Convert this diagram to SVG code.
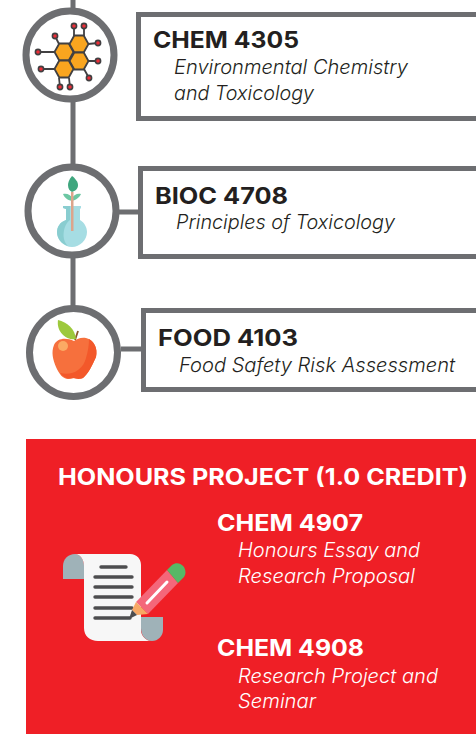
<svg xmlns="http://www.w3.org/2000/svg" xmlns:xlink="http://www.w3.org/1999/xlink" width="476" height="734" viewBox="0 0 476 734">
<style>
.ring{fill:#fff;stroke:#6d6e71;stroke-width:7}
.box{fill:#fff;stroke:#6d6e71;stroke-width:5}
.conn{stroke:#6d6e71;stroke-width:5;fill:none}
text{font-family:"Inter","Liberation Sans",sans-serif}
.code{font-size:23px;font-weight:700;fill:#231f20}
.desc{font-size:19.500px;font-style:italic;font-weight:300;fill:#231f20}
.w{fill:#fff}
.hex{fill:#f9a51f;stroke:#414042;stroke-width:1.800}
.bond{stroke:#414042;stroke-width:1.800;fill:none}
.atom{fill:#ed2e38;stroke:#414042;stroke-width:1.600}
.ln{stroke:#4d4d4f;stroke-width:3.400;stroke-linecap:round}
.curl{fill:#9fb2b8}
</style>
<defs>
<polygon id="hx" class="hex" points="-9.500,0 -4.700,-8.500 4.700,-8.500 9.500,0 4.700,8.500 -4.700,8.500"/>
</defs>
<rect width="476" height="734" fill="#fff"/>
<g id="connectors">
<path class="conn" d="M73 0V9M73 100V166M73 256V308M119 212H140M121 349H143"/>
</g>
<g id="node-chem4305">
<circle class="ring" cx="70" cy="55" r="44"/>
<path class="bond" d="M55 36L59 44M74 26V36M84 26V36M98 43L88 44M98 61H88M89 78L84 69M38 52H55M41 69H55M60 87L59 78M70 87L69 78"/>
<use xlink:href="#hx" href="#hx" x="64" y="52"/>
<use xlink:href="#hx" href="#hx" x="79" y="44"/>
<use xlink:href="#hx" href="#hx" x="79" y="61"/>
<use xlink:href="#hx" href="#hx" x="64" y="69"/>
<circle class="atom" cx="55" cy="36" r="2.600"/><circle class="atom" cx="74" cy="26" r="2.600"/><circle class="atom" cx="84" cy="26" r="2.600"/><circle class="atom" cx="98" cy="43" r="2.600"/><circle class="atom" cx="98" cy="61" r="2.600"/><circle class="atom" cx="89" cy="78" r="2.600"/><circle class="atom" cx="38" cy="52" r="2.600"/><circle class="atom" cx="41" cy="69" r="2.600"/><circle class="atom" cx="60" cy="87" r="2.600"/><circle class="atom" cx="70" cy="87" r="2.600"/>
<rect class="box" x="138.500" y="14.500" width="345" height="104"/>
<text class="code" x="153" y="48" textLength="146" lengthAdjust="spacingAndGlyphs">CHEM 4305</text>
<text class="desc" x="174" y="74" textLength="234" lengthAdjust="spacingAndGlyphs">Environmental Chemistry</text>
<text class="desc" x="174" y="100" textLength="140" lengthAdjust="spacingAndGlyphs">and Toxicology</text>
</g>
<g id="node-bioc4708">
<circle class="ring" cx="72" cy="211" r="44"/>
<path d="M72 176C69 179 68 183 68 185C68 189 70 191 72 192C75 191 78 189 78 185C78 182 75 178 72 176Z" fill="#3fa67e"/>
<path d="M72 201C67 200 64 197 63 194C67 193 71 195 72 198C74 195 77 193 81 194C80 197 76 200 72 201Z" fill="#6cc7a3"/>
<path d="M63 206H81V208L80 209V220C85 223 87 228 87 232C87 240 80 247 72 247C64 247 57 240 57 232C57 227 60 222 66 220V209L63 208Z" fill="#a6dde3"/>
<path d="M68 246C61 244 57 238 57 232C57 227 60 222 66 220V209L63 208V206H70V220C63 225 61 240 68 246Z" fill="#89cdd0"/>
<rect x="71" y="192" width="2.500" height="39" fill="#dca58c"/>
<rect class="box" x="140.500" y="168.500" width="345" height="88"/>
<text class="code" x="155" y="204" textLength="133" lengthAdjust="spacingAndGlyphs">BIOC 4708</text>
<text class="desc" x="176" y="229" textLength="219" lengthAdjust="spacingAndGlyphs">Principles of Toxicology</text>
</g>
<g id="node-food4103">
<circle class="ring" cx="73.500" cy="352.500" r="44"/>
<path d="M74 341C66 337 57 338 54 345C51 352 53 360 56 367C59 374 63 379 68 379C71 379 73 378 74 378C77 379 80 379 83 378C88 374 92 366 96 357C98 348 94 340 86 338C81 337 77 339 74 341Z" fill="#f6703d"/>
<path d="M89 339C94 342 98 348 96 357C92 366 88 374 83 378C78 380 76 378 73 378C70 379 65 379 60 373C72 376 83 370 86 358C88 351 89 345 89 339Z" fill="#f3582a"/>
<circle cx="63" cy="346" r="5" fill="#fbaa64"/>
<path d="M75 340L78 331" stroke="#8a5a2b" stroke-width="1.800" fill="none"/>
<path d="M58 320C67 322 75 329 76 339C68 341 56 333 58 320Z" fill="#9dc93c"/>
<rect class="box" x="143.500" y="310.500" width="345" height="79"/>
<text class="code" x="158" y="346" textLength="140" lengthAdjust="spacingAndGlyphs">FOOD 4103</text>
<text class="desc" x="179" y="372" textLength="276" lengthAdjust="spacingAndGlyphs">Food Safety Risk Assessment</text>
</g>
<g id="node-honours">
<rect x="26" y="439" width="450" height="295" fill="#ef1f26"/>
<text x="58" y="485" font-size="23" font-weight="700" class="w" textLength="410" lengthAdjust="spacingAndGlyphs">HONOURS PROJECT (1.0 CREDIT)</text>
<path class="curl" d="M63 579V566C63 559 68 554 75 554C80 554 84 559 84 566V579Z"/>
<path d="M75 554H130C137 554 141 559 141 565V630C141 636 146 641 152 641H98C90 641 84 636 84 628V566C84 559 80 554 75 554Z" fill="#f7f7f7"/>
<path class="curl" d="M141 617H163V630C163 636 158 641 152 641C146 641 141 636 141 628Z"/>
<path class="ln" d="M101 567H126M95 577H132M95 587H132M95 597H132M95 608H132M95 618H130"/>
<path d="M136 602L167 570L178 583L148 614Z" fill="#f4677a"/>
<path d="M167 570L172 565C176 562 181 563 184 567C186 571 186 574 184 577L178 583Z" fill="#57b866"/>
<path d="M147 603L167 582" stroke="#fff" stroke-width="3" stroke-linecap="round"/>
<path d="M136 602L148 614L137 615L132 610Z" fill="#f7a865"/>
<path d="M132 610L137 615L129 619Z" fill="#4d4d4f"/>
<text class="code" x="217" y="531" style="fill:#fff" textLength="146" lengthAdjust="spacingAndGlyphs">CHEM 4907</text>
<text class="desc" x="238" y="557" style="fill:#fff" textLength="182" lengthAdjust="spacingAndGlyphs">Honours Essay and</text>
<text class="desc" x="238" y="583" style="fill:#fff" textLength="177" lengthAdjust="spacingAndGlyphs">Research Proposal</text>
<text class="code" x="217" y="656" style="fill:#fff" textLength="147" lengthAdjust="spacingAndGlyphs">CHEM 4908</text>
<text class="desc" x="238" y="683" style="fill:#fff" textLength="200" lengthAdjust="spacingAndGlyphs">Research Project and</text>
<text class="desc" x="238" y="708" style="fill:#fff" textLength="78" lengthAdjust="spacingAndGlyphs">Seminar</text>
</g>
</svg>
